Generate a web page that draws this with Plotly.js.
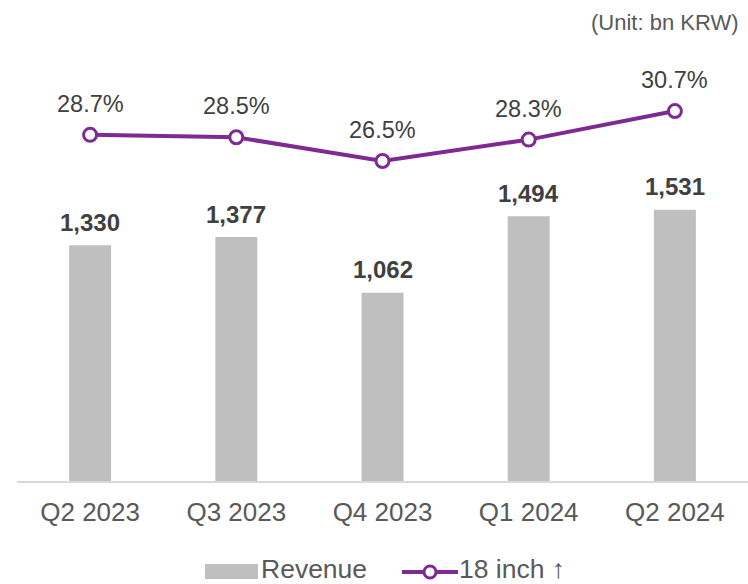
<!DOCTYPE html>
<html>
<head>
<meta charset="utf-8">
<script src="https://cdn.plot.ly/plotly-3.0.1.min.js"></script>
<style>html,body{margin:0;padding:0;background:#fff;}#chart{width:748px;height:584px;}</style>
</head>
<body>
<div id="chart"></div>
<script>
const categories = ["Q2 2023", "Q3 2023", "Q4 2023", "Q1 2024", "Q2 2024"];
const revenue = [1330, 1377, 1062, 1494, 1531];
const revenueLabels = ["1,330", "1,377", "1,062", "1,494", "1,531"];
const share18 = [28.7, 28.5, 26.5, 28.3, 30.7];
const shareLabels = ["28.7%", "28.5%", "26.5%", "28.3%", "30.7%"];
const seriesNames = ["Revenue", "18 inch ↑"];

const FONT = "Liberation Sans, Arial, sans-serif";
const purple = "#7F2A92";
const gray = "#BFBFBF";
const W = 748, H = 584;

const traces = [
  {
    type: "bar", name: seriesNames[0], x: categories, y: revenue,
    marker: {color: gray}, hoverinfo: "skip", showlegend: false
  },
  {
    type: "scatter", mode: "lines+markers", name: seriesNames[1],
    x: categories, y: share18, yaxis: "y2",
    line: {color: purple, width: 4},
    marker: {size: 13, color: "#FFFFFF", line: {color: purple, width: 3}},
    hoverinfo: "skip", showlegend: false
  }
];

const annotations = [];
categories.forEach((c, i) => {
  annotations.push({
    x: c, y: revenue[i], xref: "x", yref: "y", text: "<b>" + revenueLabels[i] + "</b>",
    showarrow: false, yshift: 23, font: {family: FONT, size: 24, color: "#404040"}
  });
  annotations.push({
    x: c, y: share18[i], xref: "x", yref: "y2", text: shareLabels[i],
    showarrow: false, yshift: 31, font: {family: FONT, size: 23.5, color: "#404040"}
  });
});
annotations.push({
  xref: "paper", yref: "paper", x: (741 - 17) / (W - 17), y: 1, xanchor: "right", yanchor: "middle",
  yshift: 60 - 22, text: "(Unit: bn KRW)", showarrow: false,
  font: {family: FONT, size: 22, color: "#595959"}
});

// custom legend (paper coordinates converted from pixel positions)
const px = x => (x - 17) / (W - 17);
const py = y => (481 - y) / (481 - 60);
annotations.push({
  xref: "paper", yref: "paper", x: px(260), y: py(569), xanchor: "left", yanchor: "middle",
  text: seriesNames[0], showarrow: false, borderpad: 0,
  font: {family: FONT, size: 26.5, color: "#595959"}
});
annotations.push({
  xref: "paper", yref: "paper", x: px(458), y: py(569), xanchor: "left", yanchor: "middle",
  text: seriesNames[1], showarrow: false, borderpad: 0,
  font: {family: FONT, size: 26.5, color: "#595959"}
});
const shapes = [
  {type: "rect", xref: "paper", yref: "paper", x0: px(205), x1: px(258), y0: py(564), y1: py(579),
   fillcolor: gray, line: {width: 0}},
  {type: "line", xref: "paper", yref: "paper", x0: px(402), x1: px(458), y0: py(572), y1: py(572),
   line: {color: purple, width: 4}},
  {type: "circle", xref: "paper", yref: "paper", x0: px(424), x1: px(436), y0: py(566), y1: py(578),
   fillcolor: "#FFFFFF", line: {color: purple, width: 3}}
];

const layout = {
  width: W, height: H,
  margin: {l: 17, r: 0, t: 60, b: 103},
  paper_bgcolor: "#FFFFFF", plot_bgcolor: "#FFFFFF",
  font: {family: FONT, color: "#595959"},
  bargap: 0.713,
  showlegend: false,
  xaxis: {
    showgrid: false, showline: true, linecolor: "#D9D9D9", linewidth: 2,
    ticks: "", tickfont: {family: FONT, size: 26, color: "#595959"},
    ticklabelstandoff: 7, fixedrange: true
  },
  yaxis: {range: [0, 2376], visible: false, showgrid: false, zeroline: false},
  yaxis2: {range: [-0.39, 34.99], overlaying: "y", visible: false, showgrid: false, zeroline: false},
  annotations: annotations,
  shapes: shapes
};

Plotly.newPlot("chart", traces, layout, {displayModeBar: false, staticPlot: true});
</script>
</body>
</html>
